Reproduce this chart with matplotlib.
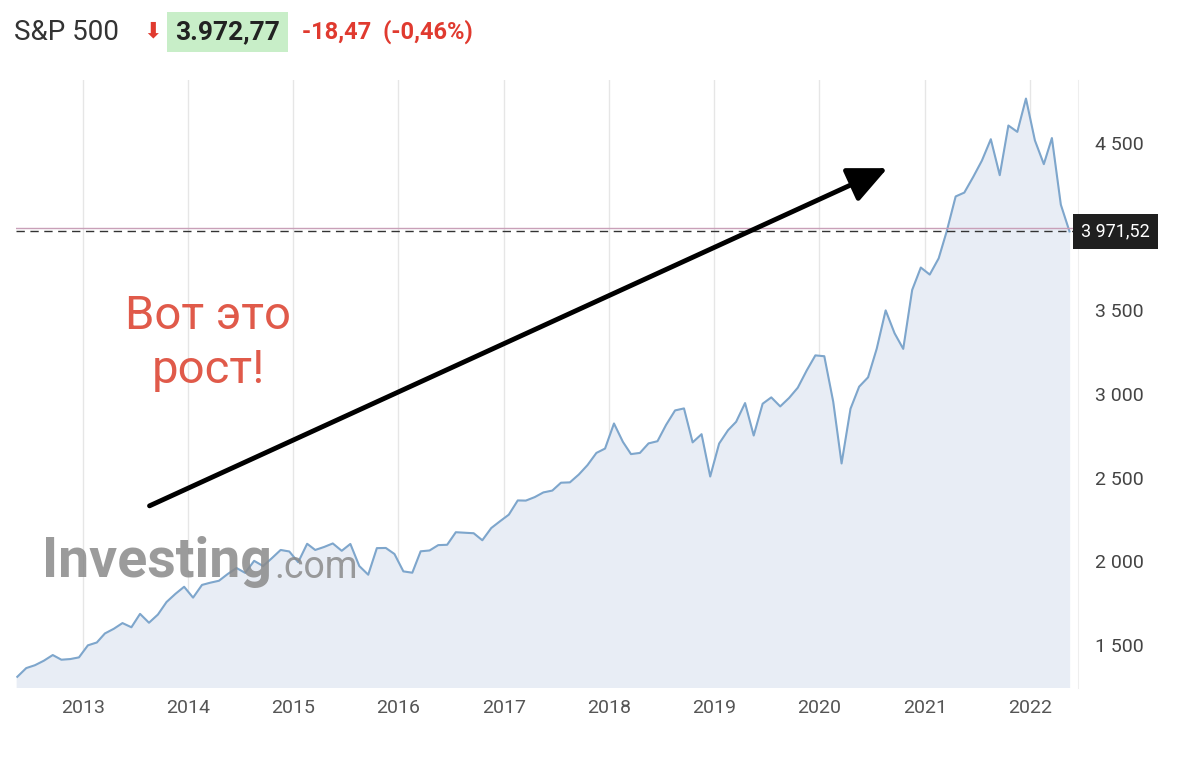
import matplotlib
matplotlib.use("Agg")
import matplotlib.pyplot as plt
import numpy as np
import datetime as dt
import matplotlib.dates as mdates

start = (2012, 5)
values = [1310,1362,1379,1406,1440,1412,1416,1426,
 1498,1515,1569,1597,1631,1606,1686,1633,1682,1757,1806,1848,
 1783,1859,1872,1884,1924,1960,1931,2003,1972,2018,2068,2059,
 1995,2105,2068,2086,2107,2063,2104,1972,1920,2079,2080,2044,
 1940,1932,2060,2065,2097,2099,2174,2171,2168,2126,2199,2239,
 2279,2364,2363,2384,2412,2423,2470,2472,2519,2575,2648,2674,
 2824,2714,2641,2648,2705,2718,2816,2902,2914,2711,2760,2507,
 2704,2784,2834,2946,2752,2942,2980,2926,2977,3038,3141,3231,
 3226,2954,2585,2912,3044,3100,3271,3500,3363,3270,3622,3756,
 3714,3811,3973,4181,4204,4298,4395,4523,4308,4605,4567,4766,
 4516,4374,4530,4132,3972]
dates = []
y, m = start
for _ in values:
    dates.append(dt.date(y, m, 18))
    m += 1
    if m > 12:
        m = 1; y += 1
last_label = "3 971,52"
last_value = 3971.52
yticks = [1500, 2000, 2500, 3000, 3500, 4500]
ytick_labels = ["1 500", "2 000", "2 500", "3 000", "3 500", "4 500"]
years = list(range(2013, 2023))

W, H = 1200, 763
fig = plt.figure(figsize=(12, 7.63), dpi=100)
ax = fig.add_axes([16/W, 1-688/H, (1078-16)/W, (688-80)/H])
dn = mdates.date2num(dates)
ax.fill_between(dn, values, 0, color="#e8edf5")
ax.plot(dn, values, color="#7ea6cc", lw=1.5)
d2013 = mdates.date2num(dt.date(2013, 1, 1))
d2022 = mdates.date2num(dt.date(2022, 1, 1))
ppd = (1030 - 83) / (d2022 - d2013)
ax.set_xlim(d2013 - (83 - 16) / ppd, d2013 + (1078 - 83) / ppd)
ax.set_ylim(1243, 4877)
xt = [mdates.date2num(dt.date(yy, 1, 1)) for yy in years]
ax.set_xticks(xt)
ax.set_xticklabels([str(yy) for yy in years], fontsize=14, color="#555555", family="Roboto")
for x in xt:
    ax.axvline(x, color="#e6e6e6", lw=1, zorder=0)
ax.yaxis.tick_right()
ax.set_yticks(yticks)
ax.set_yticklabels(ytick_labels, fontsize=14, color="#444444", family="Roboto")
ax.tick_params(length=0, pad=8)
ax.tick_params(axis='y', pad=12)
for s in ax.spines.values():
    s.set_visible(False)
ax.spines['right'].set_visible(True)
ax.spines['right'].set_color("#eeeeee")
ax.axhline(last_value + 18, color="#c9a0b8", lw=1)
ax.axhline(last_value, color="#333333", lw=1, ls=(0, (6, 4)))
ax.text(1.003, last_value, last_label, transform=ax.get_yaxis_transform(), va="center", ha="left",
        fontsize=13, color="white", family="Roboto",
        bbox=dict(boxstyle="square,pad=0.45", fc="#1f1f1f", ec="none"))

def px(x, y):
    return (x/W, 1-y/H)
fig.text(*px(14, 32), "S&P 500", fontsize=20, color="#333333", va="center", family="Roboto")
fig.text(*px(143, 31), "\u2b07", fontsize=16, color="#e03a2f", va="center", family="DejaVu Sans")
fig.text(*px(175, 32), "3.972,77", fontsize=19, color="#222222", va="center", weight="bold", family="Roboto",
         bbox=dict(boxstyle="square,pad=0.3", fc="#c8eec8", ec="none"))
fig.text(*px(302, 32), "-18,47  (-0,46%)", fontsize=17, color="#e03a2f", va="center", weight="bold", family="Roboto")
fig.text(*px(208, 343), "Вот это\nрост!", fontsize=34, color="#e05a4a", ha="center", va="center",
         linespacing=1.3, family="Roboto")
fig.text(*px(42, 562), "Investing", fontsize=40, color="#8a8a8a", weight="bold", va="center", alpha=0.85, family="Roboto")
fig.text(*px(274, 568), ".com", fontsize=27, color="#8a8a8a", va="center", alpha=0.85, family="Roboto")
fig.add_artist(matplotlib.patches.FancyArrowPatch(px(147, 507), px(890, 167), transform=fig.transFigure,
               arrowstyle="-|>,head_length=1.2,head_width=0.55", mutation_scale=20, color="black", lw=3.5))
fig.savefig("out.png", dpi=100, facecolor="white")
